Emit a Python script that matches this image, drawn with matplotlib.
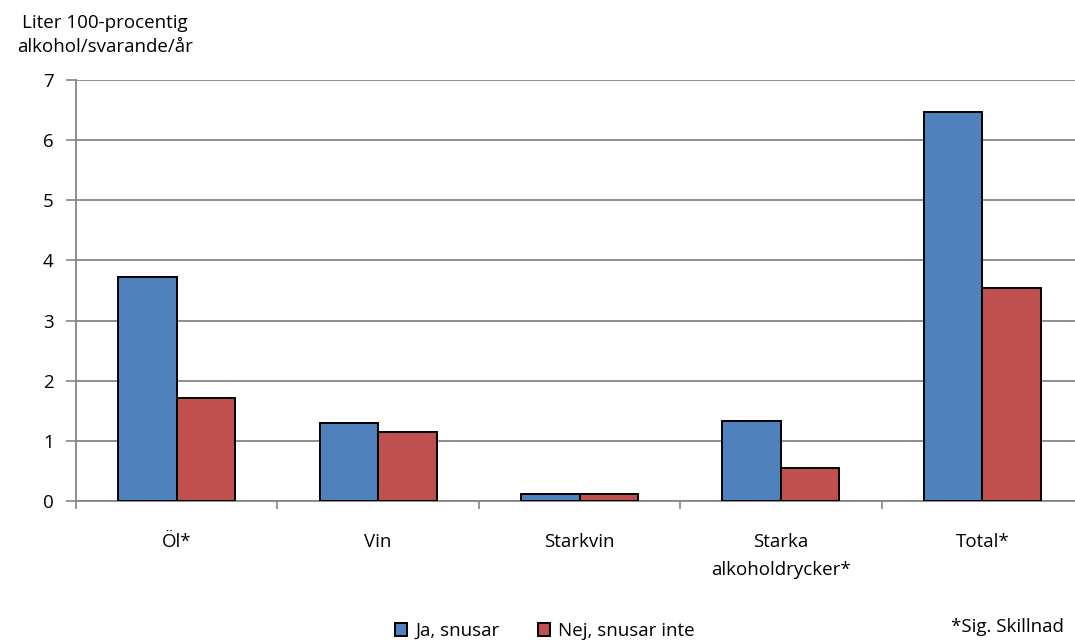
import numpy as np
import matplotlib.pyplot as plt

plt.rcParams['font.family'] = ['Open Sans', 'DejaVu Sans']

# data
categories = ['Öl*', 'Vin', 'Starkvin', 'Starka\nalkoholdrycker*', 'Total*']
ja_snusar = [3.73, 1.30, 0.12, 1.33, 6.47]
nej_snusar = [1.71, 1.15, 0.12, 0.55, 3.54]
series_names = ['Ja, snusar', 'Nej, snusar inte']
yticks = [0, 1, 2, 3, 4, 5, 6, 7]

blue = '#4F81BD'
red = '#C0504D'
grid_col = '#868686'
fs = 13.5

fig = plt.figure(figsize=(10.75, 6.4), dpi=100)
# plot area: x 76..1083 px, y 80..501 px
ax = fig.add_axes([76 / 1075, 1 - 501 / 640, (1083 - 76) / 1075, (501 - 80) / 640])

x = np.arange(len(categories))
w = 0.29
ax.bar(x - w / 2, ja_snusar, w, color=blue, edgecolor='black', linewidth=1.4,
       label=series_names[0], zorder=3)
ax.bar(x + w / 2, nej_snusar, w, color=red, edgecolor='black', linewidth=1.4,
       label=series_names[1], zorder=3)

ax.set_xlim(-0.5, len(categories) - 0.5)
ax.set_ylim(0, 7)
ax.set_yticks(yticks)
ax.set_yticklabels([str(t) for t in yticks], fontsize=fs)
ax.yaxis.grid(True, color=grid_col, linewidth=1.3, zorder=0)
ax.set_axisbelow(True)

# category boundary ticks on x axis, labels at centres
ax.set_xticks(np.arange(-0.5, len(categories)), minor=False)
ax.set_xticklabels([''] * (len(categories) + 1))
ax.set_xticks(x, minor=True)
ax.set_xticklabels(categories, minor=True, fontsize=fs, linespacing=1.7, va='top')
ax.tick_params(axis='x', which='minor', length=0, pad=23)
ax.tick_params(axis='x', which='major', length=6, color=grid_col, width=1.2)
ax.tick_params(axis='y', length=7, color=grid_col, width=1.2, pad=9)

for side in ['top', 'right']:
    ax.spines[side].set_visible(False)
for side in ['left', 'bottom']:
    ax.spines[side].set_color(grid_col)
    ax.spines[side].set_linewidth(1.3)

fig.text(105 / 1075, 1 - 35 / 640, 'Liter 100-procentig\nalkohol/svarande/år',
         ha='center', va='center', fontsize=fs, linespacing=1.45)

leg = fig.legend(loc='center', bbox_to_anchor=(545 / 1075, 1 - 631 / 640), ncol=2,
                 frameon=False, fontsize=fs, handlelength=0.65, handleheight=0.65,
                 handletextpad=0.45, columnspacing=2.0)

fig.text(1064 / 1075, 1 - 627 / 640, '*Sig. Skillnad', ha='right', va='center', fontsize=fs)

fig.savefig('out.png', dpi=100)
